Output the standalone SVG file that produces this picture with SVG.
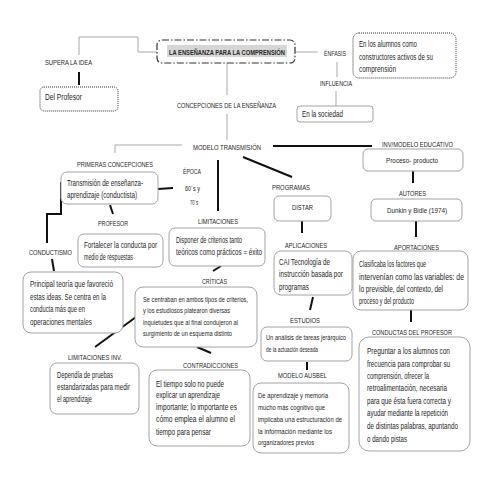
<svg xmlns="http://www.w3.org/2000/svg" width="495" height="495" viewBox="0 0 495 495">
<style>
text{font-family:"Liberation Sans",Arial,sans-serif;fill:#262626;}
.l{font-size:7.4px;text-anchor:middle;}
.b{font-size:8.2px;}
.s{font-size:7.2px;}
.box{fill:#fff;stroke:#a3a3a3;stroke-width:1;}
.dot{fill:#fff;stroke:#333;stroke-width:1;stroke-dasharray:1,1;}
.thin{fill:none;stroke:#a8a8a8;stroke-width:1;}
.thick{fill:none;stroke:#111;stroke-width:2;}
</style>
<rect width="495" height="495" fill="#fff"/>
<g id="connectors">
<path class="thin" d="M157,52 H138 V37 H79 V55"/>
<path class="thin" d="M295,52 H318"/>
<path class="thin" d="M337,62 V77"/>
<path class="thin" d="M336,91 V106"/>
<path class="thin" d="M227,63 V95"/>
<path class="thin" d="M227,114 V140"/>
<path class="thin" d="M182,145 H115 V153"/>
<path class="thick" d="M79,72 V85"/>
<path class="thick" d="M158,189 L173,188"/>
<path class="thick" d="M218,160 V211"/>
<path class="thick" d="M213,271 L221,266"/>
<path class="thick" d="M197,347 L211,353"/>
<path class="thick" d="M136,317 L95,347"/>
<path class="thick" d="M61,182 V214 H47 V243"/>
<path class="thick" d="M52,259 L54,271"/>
<path class="thick" d="M110,205 L113,214"/>
<path class="thick" d="M273,146 H372"/>
<path class="thick" d="M243,157 L292,177"/>
<path class="thick" d="M302,221 V233"/>
<path class="thick" d="M313,297 L310,310"/>
<path class="thick" d="M307,362 V370"/>
<path class="thick" d="M413,171 V183"/>
<path class="thick" d="M416,221 V237"/>
<path class="thick" d="M411,310 V322"/>
</g>
<g id="title">
<rect x="157" y="40" width="138" height="23" rx="5" fill="#fff" stroke="#333" stroke-width="1.2" stroke-dasharray="7,2,1.5,2"/>
<rect x="167" y="45" width="120" height="12" fill="#d6d6d6"/>
<text x="227" y="54.5" style="font-size:7.6px;font-weight:bold;text-anchor:middle" textLength="116" lengthAdjust="spacingAndGlyphs">LA ENSEÑANZA PARA LA COMPRENSIÓN</text>
</g>
<g id="supera"><text class="l" x="68.5" y="64.5" textLength="47" lengthAdjust="spacingAndGlyphs">SUPERA LA IDEA</text></g>
<g id="delprofesor"><rect class="dot" x="40" y="87" width="78" height="24" rx="4"/><text class="b" x="45" y="100" textLength="37" lengthAdjust="spacingAndGlyphs">Del Profesor</text></g>
<g id="enfasis"><text class="l" x="335" y="55.5" textLength="22" lengthAdjust="spacingAndGlyphs">ÉNFASIS</text></g>
<g id="alumnos"><rect class="dot" x="353" y="33" width="103" height="45" rx="6"/>
<text class="b" x="359" y="47" textLength="58" lengthAdjust="spacingAndGlyphs">En los alumnos como</text>
<text class="b" x="359" y="60" textLength="74" lengthAdjust="spacingAndGlyphs">constructores activos de su</text>
<text class="b" x="359" y="72" textLength="37" lengthAdjust="spacingAndGlyphs">comprensión</text></g>
<g id="influencia"><text class="l" x="336" y="85.5" textLength="32" lengthAdjust="spacingAndGlyphs">INFLUENCIA</text></g>
<g id="sociedad"><rect class="box" x="297" y="106" width="76" height="16" rx="3"/><text class="b" x="302" y="117" textLength="41" lengthAdjust="spacingAndGlyphs">En la sociedad</text></g>
<g id="concepciones"><text class="l" x="226.5" y="107.5" textLength="99" lengthAdjust="spacingAndGlyphs">CONCEPCIONES DE LA ENSEÑANZA</text></g>
<g id="modelo"><text class="l" x="227" y="149.5" textLength="68" lengthAdjust="spacingAndGlyphs">MODELO TRANSMISIÓN</text></g>
<g id="primeras"><text class="l" x="115" y="166.5" textLength="76" lengthAdjust="spacingAndGlyphs">PRIMERAS CONCEPCIONES</text></g>
<g id="transmision"><rect class="box" x="61" y="172" width="97" height="32" rx="6"/>
<text class="b" x="67" y="185.5" textLength="76" lengthAdjust="spacingAndGlyphs">Transmisión de enseñanza-</text>
<text class="b" x="67" y="198" textLength="70" lengthAdjust="spacingAndGlyphs">aprendizaje (conductista)</text></g>
<g id="epoca"><text class="l" x="192" y="173.5" textLength="18" lengthAdjust="spacingAndGlyphs">ÉPOCA</text>
<text class="l" x="192.5" y="190.5" textLength="15" lengthAdjust="spacingAndGlyphs">60´s y</text>
<text class="l" x="194" y="204.5" textLength="8" lengthAdjust="spacingAndGlyphs">70´s</text></g>
<g id="profesor"><text class="l" x="113" y="225.5" textLength="30" lengthAdjust="spacingAndGlyphs">PROFESOR</text></g>
<g id="fortalecer"><rect class="box" x="78" y="234" width="85" height="33" rx="6"/>
<text class="b" x="84" y="247.5" textLength="73" lengthAdjust="spacingAndGlyphs">Fortalecer la conducta por</text>
<text class="b" x="84" y="259.5" textLength="49" lengthAdjust="spacingAndGlyphs">medio de respuestas</text></g>
<g id="limitaciones"><text class="l" x="218" y="223.5" textLength="40" lengthAdjust="spacingAndGlyphs">LIMITACIONES</text></g>
<g id="disponer"><rect class="box" x="169" y="228" width="96" height="38" rx="6"/>
<text class="b" x="176" y="243" textLength="66" lengthAdjust="spacingAndGlyphs">Disponer de criterios tanto</text>
<text class="b" x="176" y="255" textLength="86" lengthAdjust="spacingAndGlyphs">teóricos como prácticos = éxito</text></g>
<g id="conductismo"><text class="l" x="50.5" y="254.5" textLength="43" lengthAdjust="spacingAndGlyphs">CONDUCTISMO</text></g>
<g id="principal"><rect class="box" x="23" y="272" width="100" height="61" rx="8"/>
<text class="b" x="30" y="287" textLength="83" lengthAdjust="spacingAndGlyphs">Principal teoría que favoreció</text>
<text class="b" x="30" y="299.5" textLength="76" lengthAdjust="spacingAndGlyphs">estas ideas. Se centra en la</text>
<text class="b" x="30" y="312" textLength="55" lengthAdjust="spacingAndGlyphs">conducta más que en</text>
<text class="b" x="30" y="324.5" textLength="62" lengthAdjust="spacingAndGlyphs">operaciones mentales</text></g>
<g id="criticas"><text class="l" x="214.5" y="283.5" textLength="25" lengthAdjust="spacingAndGlyphs">CRÍTICAS</text></g>
<g id="secentraban"><rect class="box" x="135" y="287" width="122" height="60" rx="8"/>
<text class="s" x="143" y="301.5" textLength="105" lengthAdjust="spacingAndGlyphs">Se centraban en ambos tipos de criterios,</text>
<text class="s" x="143" y="313" textLength="87" lengthAdjust="spacingAndGlyphs">y los estudiosos platearon diversas</text>
<text class="s" x="143" y="324.5" textLength="95" lengthAdjust="spacingAndGlyphs">inquietudes que al final condujeron al</text>
<text class="s" x="143" y="336" textLength="89" lengthAdjust="spacingAndGlyphs">surgimiento de un esquema distinto</text></g>
<g id="limitacionesinv"><text class="l" x="95" y="359.5" textLength="54" lengthAdjust="spacingAndGlyphs">LIMITACIONES INV.</text></g>
<g id="dependia"><rect class="box" x="50" y="363" width="89" height="51" rx="7"/>
<text class="b" x="57" y="377.5" textLength="56" lengthAdjust="spacingAndGlyphs">Dependía de pruebas</text>
<text class="b" x="57" y="389.5" textLength="73" lengthAdjust="spacingAndGlyphs">estandarizadas para medir</text>
<text class="b" x="57" y="401.5" textLength="35" lengthAdjust="spacingAndGlyphs">el aprendizaje</text></g>
<g id="contradicciones"><text class="l" x="210.5" y="367.5" textLength="55" lengthAdjust="spacingAndGlyphs">CONTRADICCIONES</text></g>
<g id="tiempo"><rect class="box" x="149" y="370" width="101" height="76" rx="8"/>
<text class="b" x="156" y="386.5" textLength="68" lengthAdjust="spacingAndGlyphs">El tiempo solo no puede</text>
<text class="b" x="156" y="398" textLength="64" lengthAdjust="spacingAndGlyphs">explicar un aprendizaje</text>
<text class="b" x="156" y="410" textLength="81" lengthAdjust="spacingAndGlyphs">importante; lo importante es</text>
<text class="b" x="156" y="422" textLength="79" lengthAdjust="spacingAndGlyphs">cómo emplea el alumno el</text>
<text class="b" x="156" y="434.5" textLength="55" lengthAdjust="spacingAndGlyphs">tiempo para pensar</text></g>
<g id="programas"><text class="l" x="291" y="189.5" textLength="38" lengthAdjust="spacingAndGlyphs">PROGRAMAS</text></g>
<g id="distar"><rect class="box" x="274" y="196" width="57" height="25" rx="5"/><text class="l" x="302.5" y="209.5" textLength="21" lengthAdjust="spacingAndGlyphs">DISTAR</text></g>
<g id="aplicaciones"><text class="l" x="306" y="247.5" textLength="42" lengthAdjust="spacingAndGlyphs">APLICACIONES</text></g>
<g id="cai"><rect class="box" x="274" y="251" width="78" height="44" rx="7"/>
<text class="b" x="279" y="264.5" textLength="51" lengthAdjust="spacingAndGlyphs">CAI Tecnología de</text>
<text class="b" x="279" y="277" textLength="64" lengthAdjust="spacingAndGlyphs">instrucción basada por</text>
<text class="b" x="279" y="289.5" textLength="30" lengthAdjust="spacingAndGlyphs">programas</text></g>
<g id="estudios"><text class="l" x="305" y="322.5" textLength="30" lengthAdjust="spacingAndGlyphs">ESTUDIOS</text></g>
<g id="analisis"><rect class="box" x="261" y="327" width="91" height="34" rx="6"/>
<text class="s" x="266" y="339.5" textLength="80" lengthAdjust="spacingAndGlyphs">Un análisis de tareas jerárquico</text>
<text class="s" x="266" y="351.5" textLength="52" lengthAdjust="spacingAndGlyphs">de la actuación deseada</text></g>
<g id="ausbel"><text class="l" x="302.5" y="377.5" textLength="49" lengthAdjust="spacingAndGlyphs">MODELO AUSBEL</text></g>
<g id="aprendizaje"><rect class="box" x="253" y="383" width="96" height="70" rx="8"/>
<text class="s" x="258" y="397.5" textLength="70" lengthAdjust="spacingAndGlyphs">De aprendizaje y memoria</text>
<text class="s" x="258" y="409.5" textLength="67" lengthAdjust="spacingAndGlyphs">mucho más cognitivo que</text>
<text class="s" x="258" y="421.5" textLength="84" lengthAdjust="spacingAndGlyphs">implicaba una estructuración de</text>
<text class="s" x="258" y="433.5" textLength="74" lengthAdjust="spacingAndGlyphs">la información mediante los</text>
<text class="s" x="258" y="444.5" textLength="56" lengthAdjust="spacingAndGlyphs">organizadores previos</text></g>
<g id="inv"><text class="l" x="417.5" y="146.5" textLength="71" lengthAdjust="spacingAndGlyphs">INV/MODELO EDUCATIVO</text></g>
<g id="proceso"><rect class="box" x="363" y="149" width="100" height="22" rx="5"/><text class="l" x="412" y="162.5" style="font-size:8px" textLength="52" lengthAdjust="spacingAndGlyphs">Proceso- producto</text></g>
<g id="autores"><text class="l" x="412.5" y="195.5" textLength="27" lengthAdjust="spacingAndGlyphs">AUTORES</text></g>
<g id="dunkin"><rect class="box" x="371" y="199" width="91" height="22" rx="5"/><text class="l" x="417" y="212.5" style="font-size:8px" textLength="60" lengthAdjust="spacingAndGlyphs">Dunkin y Bidle (1974)</text></g>
<g id="aportaciones"><text class="l" x="416.5" y="249.5" textLength="45" lengthAdjust="spacingAndGlyphs">APORTACIONES</text></g>
<g id="clasificaba"><rect class="box" x="353" y="251" width="115" height="59" rx="8"/>
<text class="b" x="359" y="266.5" textLength="67" lengthAdjust="spacingAndGlyphs">Clasificaba los factores que</text>
<text class="b" x="359" y="279.5" textLength="105" lengthAdjust="spacingAndGlyphs">intervenían como las variables: de</text>
<text class="b" x="359" y="291.5" textLength="84" lengthAdjust="spacingAndGlyphs">lo previsible, del contexto, del</text>
<text class="b" x="359" y="303.5" textLength="55" lengthAdjust="spacingAndGlyphs">proceso y del producto</text></g>
<g id="conductas"><text class="l" x="412" y="334.5" textLength="80" lengthAdjust="spacingAndGlyphs">CONDUCTAS DEL PROFESOR</text></g>
<g id="preguntar"><rect class="box" x="359" y="337" width="111" height="114" rx="10"/>
<text class="b" x="367" y="353.5" textLength="83" lengthAdjust="spacingAndGlyphs">Preguntar a los alumnos con</text>
<text class="b" x="367" y="366.5" textLength="83" lengthAdjust="spacingAndGlyphs">frecuencia para comprobar su</text>
<text class="b" x="367" y="378.5" textLength="62" lengthAdjust="spacingAndGlyphs">comprensión, ofrecer la</text>
<text class="b" x="367" y="390.5" textLength="80" lengthAdjust="spacingAndGlyphs">retroalimentación, necesaria</text>
<text class="b" x="367" y="403.5" textLength="84" lengthAdjust="spacingAndGlyphs">para que ésta fuera correcta y</text>
<text class="b" x="367" y="415.5" textLength="81" lengthAdjust="spacingAndGlyphs">ayudar mediante la repetición</text>
<text class="b" x="367" y="428.5" textLength="91" lengthAdjust="spacingAndGlyphs">de distintas palabras, apuntando</text>
<text class="b" x="367" y="441.5" textLength="40" lengthAdjust="spacingAndGlyphs">o dando pistas</text></g>
</svg>
